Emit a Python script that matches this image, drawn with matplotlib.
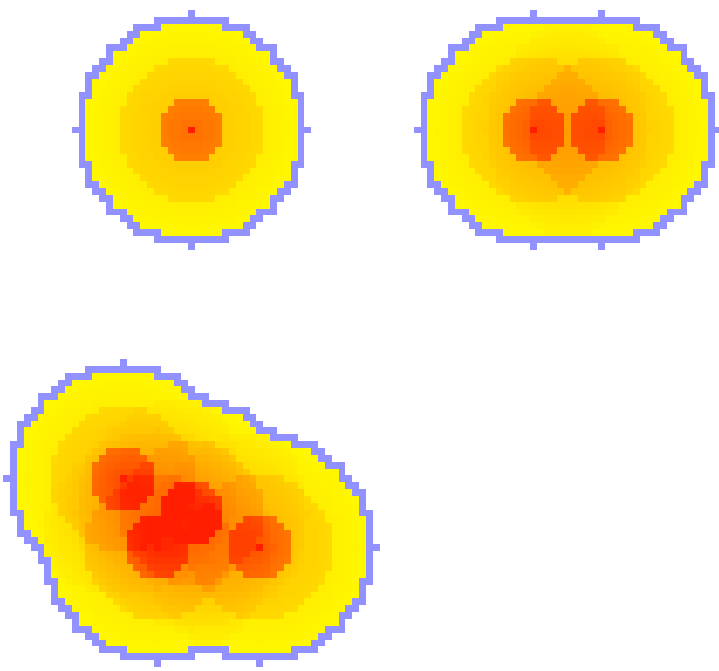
import numpy as np
import matplotlib
matplotlib.use("Agg")
import matplotlib.pyplot as plt

# Point centres on the cell grid
point_x = [28, 78, 88, 18, 28, 23, 38]
point_y = [19, 19, 19, 70, 75, 80, 80]

# Zone radii (cells): inner disk, middle ring, outer ring
inner_r = 4.5
middle_r = 10.5
outer_r = 17.0

# Zone strengths (value at outer edge, extra value at inner edge)
inner_level = [0.50, 0.07]
middle_level = [0.15, 0.05]
outer_level = [0.02, 0.05]
centre_spike = 0.31
value_cap = 0.88

# Grid size in cells and pixel size of one cell
ncols, nrows = 106, 99
cell_px = 6.84


def kernel(d):
    v = np.zeros_like(d)
    m = d <= inner_r
    v[m] = inner_level[0] + inner_level[1] * (1 - d[m] / inner_r)
    m = (d > inner_r) & (d <= middle_r)
    v[m] = middle_level[0] + middle_level[1] * (middle_r - d[m]) / (middle_r - inner_r)
    m = (d > middle_r) & (d <= outer_r + 0.01)
    v[m] = outer_level[0] + outer_level[1] * (outer_r - d[m]) / (outer_r - middle_r)
    v[d == 0] += centre_spike
    return v


xx, yy = np.meshgrid(np.arange(ncols), np.arange(nrows))
value = np.zeros((nrows, ncols))
inside = np.zeros((nrows, ncols), dtype=bool)
for px, py in zip(point_x, point_y):
    d = np.hypot(xx - px, yy - py)
    value += kernel(d)
    inside |= d <= outer_r + 0.01

# Boundary cells: inside cells with any of the 8 neighbours outside
padded = np.pad(inside, 1, constant_values=False)
all_nb = np.ones_like(inside)
for dy in (-1, 0, 1):
    for dx in (-1, 0, 1):
        all_nb &= padded[1 + dy:1 + dy + nrows, 1 + dx:1 + dx + ncols]
border = inside & ~all_nb

# Colour image
cmap = plt.get_cmap("autumn_r")
rgb = cmap(np.clip(value, 0, value_cap))[..., :3]
rgb[~inside] = [1, 1, 1]
rgb[border] = [0.57, 0.57, 1.0]

fig = plt.figure(figsize=(7.19, 6.71), dpi=100)
ax = fig.add_axes([0, 0, 1, 1])
ax.imshow(rgb, extent=(-0.5, ncols - 0.5, nrows - 0.5, -0.5), interpolation="nearest")
ax.set_xlim(0, 719 / cell_px)
ax.set_ylim(671 / cell_px, 0)
ax.axis("off")

plt.savefig("out.png", dpi=100)
